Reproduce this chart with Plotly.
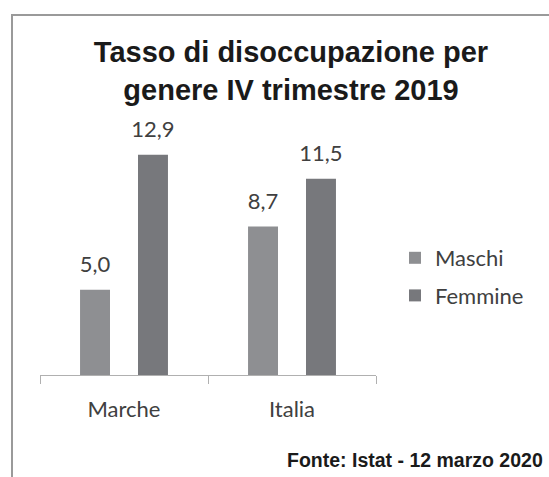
import plotly.graph_objects as go

categories = ["Marche", "Italia"]
series_names = ["Maschi", "Femmine"]
maschi = [5.0, 8.7]
femmine = [12.9, 11.5]
title_lines = ["Tasso di disoccupazione per", "genere IV trimestre 2019"]
source_note = "Fonte: Istat - 12 marzo 2020"

colors = {"Maschi": "#8e8f92", "Femmine": "#77787c"}
values = {"Maschi": maschi, "Femmine": femmine}

FIG_W, FIG_H = 549, 477
L, R, T, B = 40, 173, 119, 102
PW, PH = FIG_W - L - R, FIG_H - T - B


def px_x(p):
    return (p - L) / PW


def px_y(p):
    return (FIG_H - B - p) / PH


def fmt(v):
    return f"{v:.1f}".replace(".", ",")


label_font = dict(family="Lato, Open Sans, sans-serif", size=22, color="#404040")

fig = go.Figure()
for i, name in enumerate(series_names):
    fig.add_trace(go.Bar(
        x=categories, y=values[name], name=name,
        marker=dict(color=colors[name], line=dict(width=0)),
        offsetgroup=name, legendgroup=name,
        hoverinfo="skip",
    ))
for name in series_names:
    fig.add_trace(go.Scatter(
        x=categories, y=values[name], mode="markers+text",
        text=[fmt(v) for v in values[name]], textposition="top center",
        textfont=label_font,
        marker=dict(size=18, color="rgba(0,0,0,0)"),
        offsetgroup=name, showlegend=False, hoverinfo="skip", cliponaxis=False,
    ))

fig.update_layout(
    width=FIG_W, height=FIG_H,
    margin=dict(l=L, r=R, t=T, b=B, autoexpand=False),
    paper_bgcolor="white", plot_bgcolor="white",
    barmode="group", bargap=0.31, bargroupgap=0.483,
    scattermode="group", scattergap=0.31,
    title=dict(
        text="<br>".join(f"<b>{t}</b>" for t in title_lines),
        font=dict(family="Liberation Sans, Arial, sans-serif", size=29, color="#1a1a1a"),
        x=291 / FIG_W, xanchor="center", xref="container",
        y=1 - 62 / FIG_H, yanchor="top", yref="container",
    ),
    legend=dict(
        x=px_x(395), xanchor="left", y=px_y(237), yanchor="top",
        font=label_font, tracegroupgap=6, traceorder="grouped",
        bgcolor="rgba(0,0,0,0)",
    ),
    xaxis=dict(
        showline=True, linecolor="#b0b0b0", linewidth=1,
        ticks="outside", tickson="boundaries", ticklen=8, tickcolor="#b0b0b0",
        tickfont=label_font, ticklabelstandoff=15,
        showgrid=False, zeroline=False,
    ),
    yaxis=dict(range=[0, 15], visible=False, showgrid=False, zeroline=False),
    showlegend=True,
)

fig.add_shape(
    type="rect", xref="paper", yref="paper",
    x0=px_x(12), x1=px_x(600), y0=px_y(600), y1=px_y(15),
    line=dict(color="#9a9a9a", width=2), fillcolor="rgba(0,0,0,0)", layer="below",
)

fig.add_annotation(
    text=f"<b>{source_note}</b>", xref="paper", yref="paper",
    x=px_x(545), xanchor="right", y=px_y(473), yanchor="bottom",
    showarrow=False,
    font=dict(family="Liberation Sans, Arial, sans-serif", size=19.5, color="#1a1a1a"),
)

fig.write_html("out.html", config={"displayModeBar": False},
               post_script="document.body.style.margin='0';")
